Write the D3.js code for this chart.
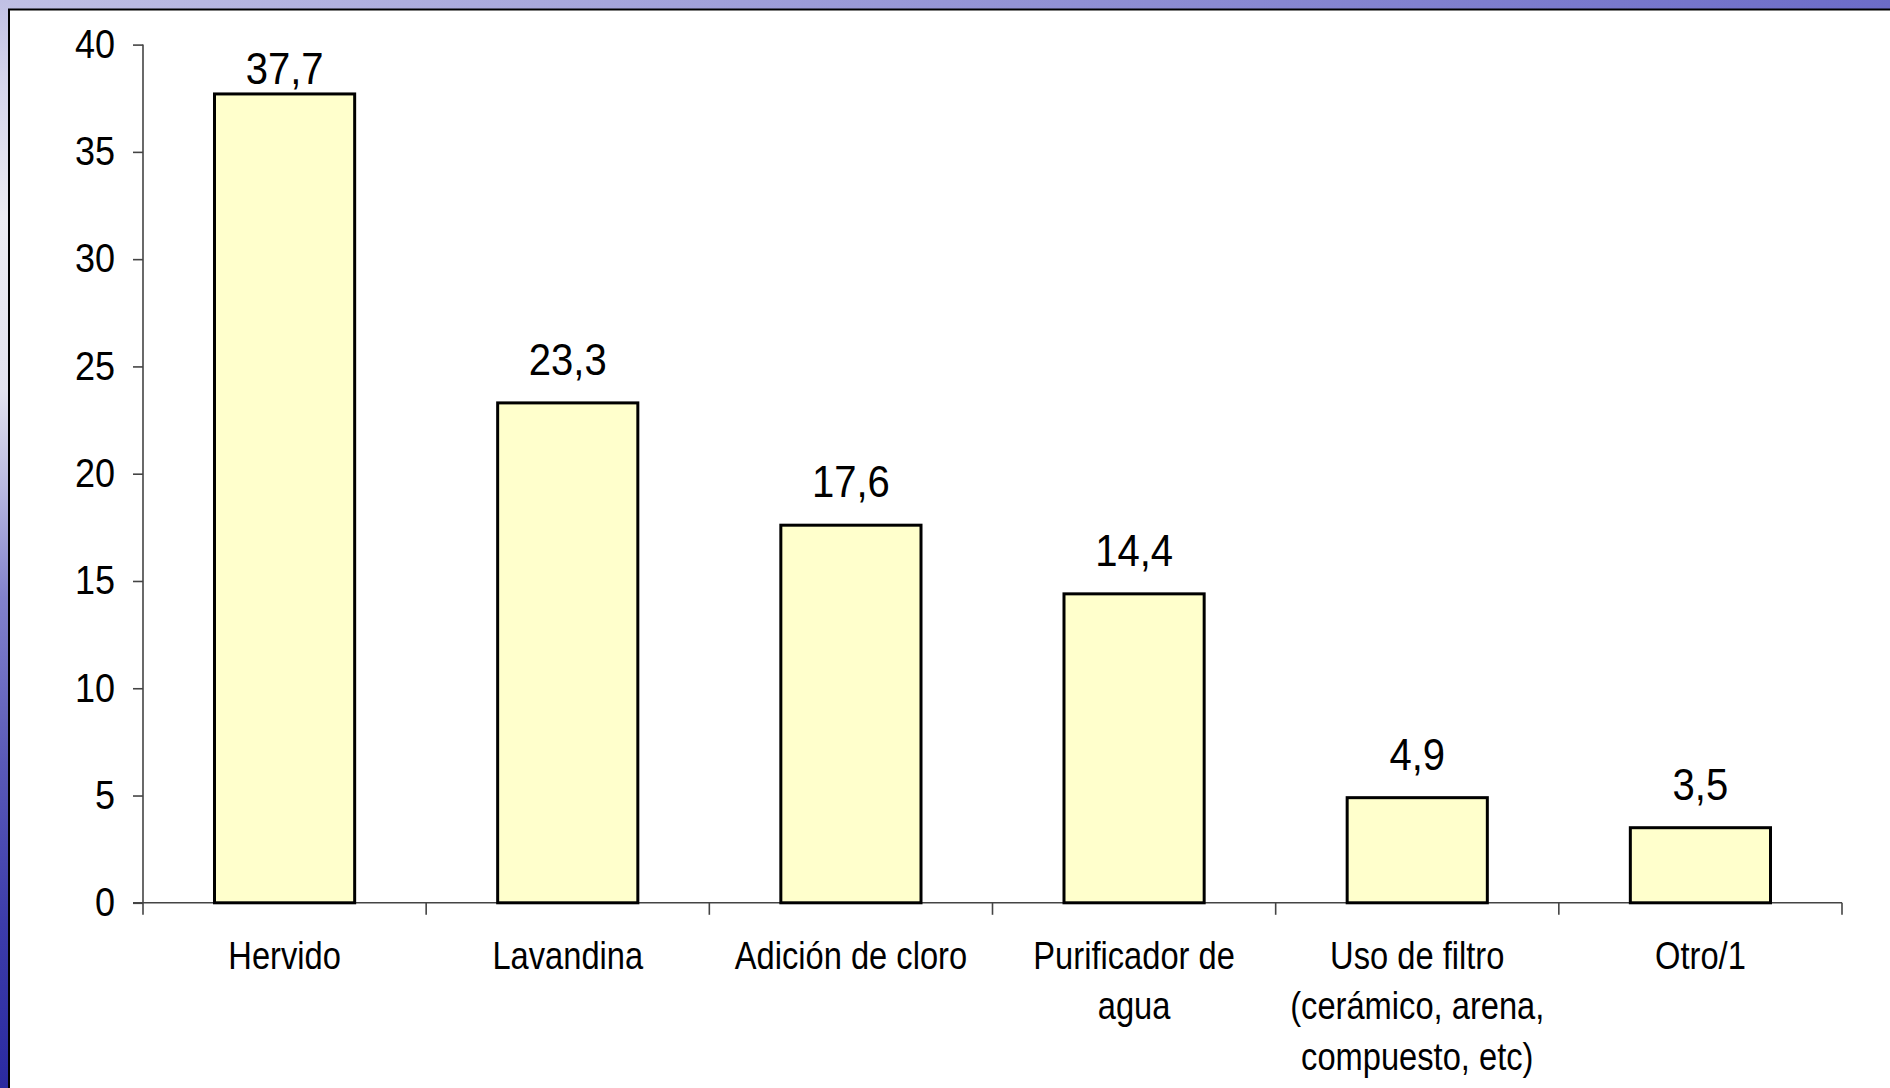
<!DOCTYPE html>
<html>
<head>
<meta charset="utf-8">
<script src="https://cdn.jsdelivr.net/npm/d3@7"></script>
<style>
  body { margin: 0; background: #fff; }
  svg text { font-family: "Liberation Sans", Arial, sans-serif; fill: #000; }
</style>
</head>
<body>
<div id="chart"></div>
<script>
// ---------- data ----------
var categories = [
  ["Hervido"],
  ["Lavandina"],
  ["Adición de cloro"],
  ["Purificador de", "agua"],
  ["Uso de filtro", "(cerámico, arena,", "compuesto, etc)"],
  ["Otro/1"]
];
var values = [37.7, 23.3, 17.6, 14.4, 4.9, 3.5];
var valueLabels = ["37,7", "23,3", "17,6", "14,4", "4,9", "3,5"];
var yTicks = [0, 5, 10, 15, 20, 25, 30, 35, 40];

var W = 1890, H = 1088;
var plotLeft = 143, plotRight = 1842, plotTop = 44.6, plotBottom = 902.8;

var svg = d3.select("#chart").append("svg")
  .attr("width", W).attr("height", H);

// ---------- background (slide frame) ----------
var defs = svg.append("defs");
var gl = defs.append("linearGradient").attr("id", "gLeft")
  .attr("x1", 0).attr("y1", 0).attr("x2", 0).attr("y2", 1);
[["0%", "#c0c0e4"], ["8%", "#d6d6ec"], ["20%", "#ececf2"], ["36%", "#e2e2ee"],
 ["45%", "#b8b8e0"], ["55%", "#8282cc"], ["70%", "#5a5ab8"], ["85%", "#3c3caa"],
 ["100%", "#2a2aa0"]].forEach(function(s) {
  gl.append("stop").attr("offset", s[0]).attr("stop-color", s[1]);
});
var gt = defs.append("linearGradient").attr("id", "gTop")
  .attr("x1", 0).attr("y1", 0).attr("x2", 1).attr("y2", 0);
gt.append("stop").attr("offset", "0%").attr("stop-color", "#c0c0e4");
gt.append("stop").attr("offset", "100%").attr("stop-color", "#6c6cc8");

svg.append("rect").attr("x", 0).attr("y", 0).attr("width", W).attr("height", 10)
  .attr("fill", "url(#gTop)");
svg.append("rect").attr("x", 0).attr("y", 0).attr("width", 10).attr("height", H)
  .attr("fill", "url(#gLeft)");
svg.append("rect").attr("x", 9).attr("y", 9.5).attr("width", W + 10).attr("height", H + 10)
  .attr("fill", "#fff").attr("stroke", "#000").attr("stroke-width", 2);

// ---------- scales ----------
var x = d3.scaleBand()
  .domain(d3.range(categories.length))
  .range([plotLeft, plotRight])
  .paddingInner(0.505)
  .paddingOuter(0.2525);

var y = d3.scaleLinear()
  .domain([0, 40])
  .range([plotBottom, plotTop]);

// ---------- Y axis ----------
var yAxis = svg.append("g")
  .attr("transform", "translate(" + plotLeft + ",0)")
  .call(d3.axisLeft(y).tickValues(yTicks).tickSize(10).tickPadding(21));
yAxis.select(".domain").attr("stroke", "#444").attr("stroke-width", 1.6)
  .attr("d", "M0," + plotTop + "V" + (plotBottom + 12));
yAxis.selectAll(".tick line").attr("stroke", "#444").attr("stroke-width", 1.6);
yAxis.selectAll(".tick text")
  .style("font-size", "40px")
  .attr("transform", "scale(0.9,1)");

// ---------- X axis ----------
svg.append("line")
  .attr("x1", plotLeft - 10).attr("x2", plotRight)
  .attr("y1", plotBottom).attr("y2", plotBottom)
  .attr("stroke", "#444").attr("stroke-width", 1.6);
svg.append("g").selectAll("line")
  .data(d3.range(1, categories.length + 1))
  .enter().append("line")
  .attr("x1", function(d) { return plotLeft + d * x.step(); })
  .attr("x2", function(d) { return plotLeft + d * x.step(); })
  .attr("y1", plotBottom).attr("y2", plotBottom + 12)
  .attr("stroke", "#444").attr("stroke-width", 1.6);

// ---------- bars ----------
svg.append("g").selectAll("rect")
  .data(values)
  .enter().append("rect")
  .attr("x", function(d, i) { return x(i); })
  .attr("y", function(d) { return y(d); })
  .attr("width", x.bandwidth())
  .attr("height", function(d) { return plotBottom - y(d); })
  .attr("fill", "#ffffcc")
  .attr("stroke", "#000")
  .attr("stroke-width", 3);

// value labels (kept inside the plot area, like the original)
svg.append("g").selectAll("text")
  .data(values)
  .enter().append("text")
  .attr("transform", function(d, i) {
    var ty = Math.max(y(d) - 28, plotTop + 39);
    return "translate(" + (x(i) + x.bandwidth() / 2) + "," + ty + ") scale(0.91,1)";
  })
  .attr("text-anchor", "middle")
  .style("font-size", "44px")
  .text(function(d, i) { return valueLabels[i]; });

// category labels
var cat = svg.append("g").selectAll("g")
  .data(categories)
  .enter().append("g")
  .attr("transform", function(d, i) {
    return "translate(" + (x(i) + x.bandwidth() / 2) + "," + (plotBottom + 66) + ")";
  });
cat.selectAll("text")
  .data(function(d) { return d; })
  .enter().append("text")
  .attr("transform", function(d, j) { return "translate(0," + (j * 50.6) + ") scale(0.86,1)"; })
  .attr("text-anchor", "middle")
  .style("font-size", "38px")
  .text(function(d) { return d; });
</script>
</body>
</html>
